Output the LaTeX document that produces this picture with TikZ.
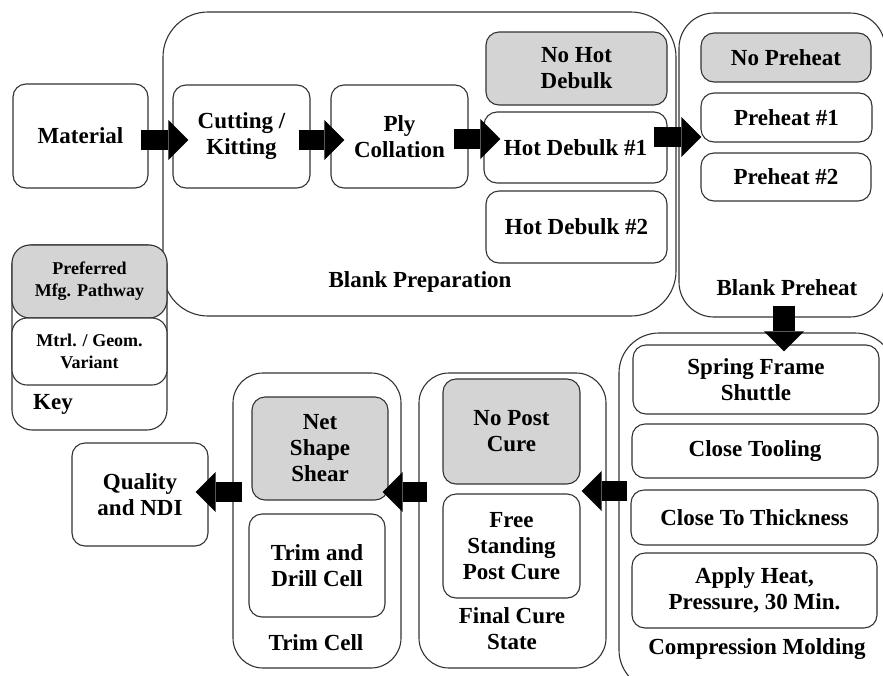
\documentclass[tikz,border=0pt]{standalone}
\usepackage{fontspec}
\setmainfont{Liberation Serif}
\usetikzlibrary{arrows.meta}
\definecolor{prefgray}{RGB}{212,212,212}

\begin{document}
\begin{tikzpicture}[x=1pt,y=-1pt,
  every node/.style={font=\fontsize{23}{26}\selectfont\bfseries, align=center, inner sep=0pt},
  boxsize/.style 2 args={minimum width=#1pt, minimum height=#2pt},
  stepbox/.style={draw=black!80, line width=1.1pt, rounded corners=13pt, fill=white},
  prefbox/.style={stepbox, fill=prefgray},
  groupbox/.style={draw=black!80, line width=1.1pt, rounded corners=#1},
  groupbox/.default=30pt,
  keytext/.style={font=\fontsize{18}{22}\selectfont\bfseries},
  flowarrow/.style={line width=20pt, -{Triangle[length=20pt,width=40pt,line width=0pt]}}]
\useasboundingbox (0,0) rectangle (883,675);

% groups
\node[groupbox=45pt, boxsize={513}{304}] (prep) at (419.5,164) {};
\node[groupbox=35pt, boxsize={206}{304}] (preheat) at (782,165) {};
\node[groupbox=40pt, boxsize={276}{357}] (mold) at (757,511.5) {};
\node[groupbox, boxsize={187}{295}] (cure) at (512.5,520.5) {};
\node[groupbox, boxsize={168}{295}] (trim) at (317,520.5) {};
\node[groupbox=20pt, boxsize={155}{185}] (key) at (89.5,337.5) {};

\node (preplbl) at (420,282) {Blank Preparation};
\node (preheatlbl) at (787,288) {Blank Preheat};
\node (moldlbl) at (757,649) {Compression Molding};
\node (curelbl) at (512,629) {Final Cure\\State};
\node (trimlbl) at (316,643) {Trim Cell};
\node (keylbl) at (53,404) {Key};

% steps
\node[stepbox, boxsize={135}{104}] (mat) at (80.5,136) {Material};
\node[stepbox, boxsize={137}{103}] (cut) at (241.5,136.5) {Cutting /\\Kitting};
\node[stepbox, boxsize={137}{103}] (ply) at (399.5,136.5) {Ply\\Collation};
\node[prefbox, boxsize={181}{73}] (nohd) at (576.5,68.5) {No Hot\\Debulk};
\node[stepbox, boxsize={183}{71}] (hd1) at (575.5,147.5) {Hot Debulk \#1};
\node[stepbox, boxsize={181}{72}] (hd2) at (576.5,227) {Hot Debulk \#2};

\node[prefbox, boxsize={170}{49}] (nopre) at (786,57.5) {No Preheat};
\node[stepbox, boxsize={171}{49}] (pre1) at (786.5,117.5) {Preheat \#1};
\node[stepbox, boxsize={170}{48}] (pre2) at (786,177) {Preheat \#2};

\node[stepbox, boxsize={246}{69}] (spring) at (756,379.5) {Spring Frame\\Shuttle};
\node[stepbox, boxsize={246}{54}] (closetool) at (755,451) {Close Tooling};
\node[stepbox, boxsize={247}{55}] (closethick) at (754.5,517.5) {Close To Thickness};
\node[stepbox, boxsize={245}{75}] (heat) at (754.5,590.5) {Apply Heat,\\Pressure, 30 Min.};

\node[prefbox, boxsize={137}{105}] (nopost) at (511.5,431.5) {No Post\\Cure};
\node[stepbox, boxsize={137}{104}] (freestand) at (511.5,546) {Free\\Standing\\Post Cure};

\node[prefbox, boxsize={136}{103}] (netshape) at (320,448.5) {Net\\Shape\\Shear};
\node[stepbox, boxsize={136}{103}] (trimdrill) at (317,565.5) {Trim and\\Drill Cell};

\node[stepbox, boxsize={136}{103}] (quality) at (140,494.5) {Quality\\and NDI};

\node[prefbox, keytext, rounded corners=18pt, boxsize={155}{73}] (pref) at (89.5,281.5) {Preferred\\Mfg. Pathway};
\node[stepbox, keytext, rounded corners=15pt, boxsize={155}{67}] (variant) at (89.5,351.5) {Mtrl. / Geom.\\Variant};

% flow
\draw[flowarrow] ([shift={(-8,4)}]mat.east) -- ([shift={(16,3.5)}]cut.west);
\draw[flowarrow] ([shift={(-12,3.5)}]cut.east) -- ([shift={(14,3.5)}]ply.west);
\draw[flowarrow] ([shift={(-15,2.5)}]ply.east) -- ([shift={(17,-8.5)}]hd1.west);
\draw[flowarrow] ([shift={(-14,-10.5)}]hd1.east) -- ([shift={(1,19.5)}]pre1.west);
\draw[flowarrow, line width=22pt] ([shift={(2,-12)}]preheat.south) -- ([shift={(28,7)}]spring.north);
\draw[flowarrow] ([shift={(9,-20.5)}]mold.west) -- ([shift={(-25,-29.5)}]cure.east);
\draw[flowarrow] ([shift={(9,-28.5)}]cure.west) -- ([shift={(-19,-28.5)}]trim.east);
\draw[flowarrow] ([shift={(10,-28.5)}]trim.west) -- ([shift={(-13,-2.5)}]quality.east);
\end{tikzpicture}
\end{document}
